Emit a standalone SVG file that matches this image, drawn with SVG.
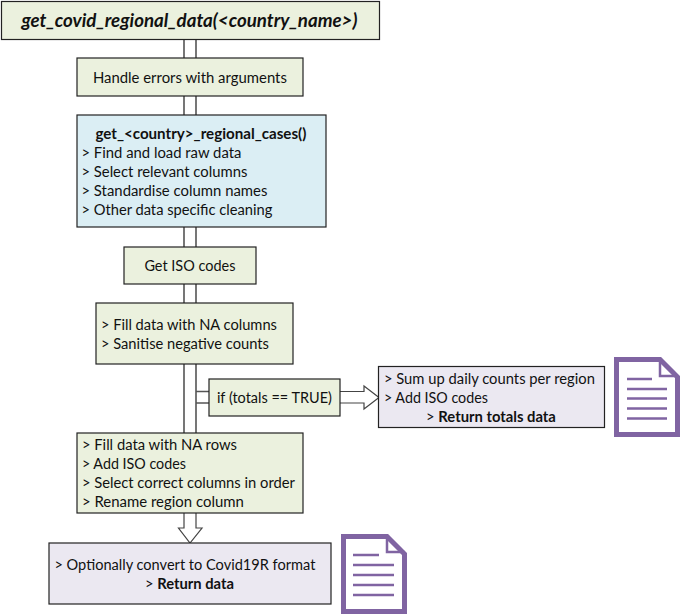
<svg xmlns="http://www.w3.org/2000/svg" width="681" height="615" viewBox="0 0 681 615">
<style>
text{font-family:"Lato","Open Sans","Liberation Sans",sans-serif;font-size:14.500px;fill:#111;transform:translate(-0.6px,0.5px)}
.b{font-weight:700}
.t{font-weight:700;font-style:italic;font-size:18px}
.n{stroke:#222;stroke-width:1.2}
.g{fill:#ebf1de}.c{fill:#dbeef4}.p{fill:#ebe8f1}
.l{fill:none;stroke:#555;stroke-width:1.6}
.w{fill:#fff;stroke:#444;stroke-width:1.2}
.d{fill:none;stroke:#8064a2}
</style>
<rect width="681" height="615" fill="#fff"/>
<g id="connectors">
<path class="l" d="M184 39V433M196 39V433M196 391.5H209M196 403H209"/>
<path class="w" d="M184 513V528H178.500L190 543L202 528H196V513"/>
<path class="w" d="M340 391.500H364V386L379 397.500L364 409V403H340"/>
</g>
<g id="n-main"><rect class="n g" x="1.500" y="1.500" width="378" height="38"/>
<text class="t" x="22" y="26" textLength="336" lengthAdjust="spacingAndGlyphs">get_covid_regional_data(&lt;country_name&gt;)</text></g>
<g id="n-errors"><rect class="n g" x="77" y="58" width="226" height="38"/>
<text x="93.500" y="82" textLength="194" lengthAdjust="spacingAndGlyphs">Handle errors with arguments</text></g>
<g id="n-cases"><rect class="n c" x="77" y="115" width="249" height="112"/>
<text class="b" x="96" y="138" textLength="211" lengthAdjust="spacingAndGlyphs">get_&lt;country&gt;_regional_cases()</text>
<text x="82" y="157" textLength="160" lengthAdjust="spacingAndGlyphs">&gt; Find and load raw data</text>
<text x="82" y="176" textLength="166" lengthAdjust="spacingAndGlyphs">&gt; Select relevant columns</text>
<text x="82" y="195" textLength="186" lengthAdjust="spacingAndGlyphs">&gt; Standardise column names</text>
<text x="82" y="214" textLength="191" lengthAdjust="spacingAndGlyphs">&gt; Other data specific cleaning</text></g>
<g id="n-iso"><rect class="n g" x="124" y="247" width="132" height="37"/>
<text x="145" y="270" textLength="91" lengthAdjust="spacingAndGlyphs">Get ISO codes</text></g>
<g id="n-fill"><rect class="n g" x="96" y="303" width="197" height="61"/>
<text x="101.500" y="329" textLength="176" lengthAdjust="spacingAndGlyphs">&gt; Fill data with NA columns</text>
<text x="101.500" y="348" textLength="168" lengthAdjust="spacingAndGlyphs">&gt; Sanitise negative counts</text></g>
<g id="n-if"><rect class="n g" x="209" y="379" width="131" height="37"/>
<text x="217.500" y="402" textLength="115" lengthAdjust="spacingAndGlyphs">if (totals == TRUE)</text></g>
<g id="n-totals"><rect class="n p" x="378.500" y="366.500" width="226" height="61"/>
<text x="384.500" y="383" textLength="211" lengthAdjust="spacingAndGlyphs">&gt; Sum up daily counts per region</text>
<text x="384.500" y="402" textLength="104" lengthAdjust="spacingAndGlyphs">&gt; Add ISO codes</text>
<text x="426.500" y="421" textLength="130" lengthAdjust="spacingAndGlyphs">&gt; <tspan class="b">Return totals data</tspan></text></g>
<g id="n-rows"><rect class="n g" x="77" y="433" width="226" height="80"/>
<text x="82.500" y="449" textLength="155" lengthAdjust="spacingAndGlyphs">&gt; Fill data with NA rows</text>
<text x="82.500" y="468" textLength="104" lengthAdjust="spacingAndGlyphs">&gt; Add ISO codes</text>
<text x="82.500" y="487" textLength="213" lengthAdjust="spacingAndGlyphs">&gt; Select correct columns in order</text>
<text x="82.500" y="506" textLength="162" lengthAdjust="spacingAndGlyphs">&gt; Rename region column</text></g>
<g id="n-final"><rect class="n p" x="49" y="543" width="282" height="61"/>
<text x="55" y="569" textLength="261" lengthAdjust="spacingAndGlyphs">&gt; Optionally convert to Covid19R format</text>
<text x="145.500" y="588" textLength="89" lengthAdjust="spacingAndGlyphs">&gt; <tspan class="b">Return data</tspan></text></g>
<g id="doc-totals">
<path class="d" stroke-width="5" d="M616.500 359.500H660L677.500 377V434.500H616.500Z"/>
<path class="d" stroke-width="2.500" d="M660 359.500V376H677.500"/>
<path class="d" stroke-width="2.500" d="M627 379H652M627 389H667M627 398.500H667M627 408.500H667M627 418.500H667"/>
</g>
<g id="doc-final">
<path class="d" stroke-width="5" d="M343.500 536.500H387L404.500 554V611.500H343.500Z"/>
<path class="d" stroke-width="2.500" d="M387 536.500V552H404.500"/>
<path class="d" stroke-width="2.500" d="M353 555H379M353 565H394M353 575H394M353 585H394M353 595H394"/>
</g>
</svg>
